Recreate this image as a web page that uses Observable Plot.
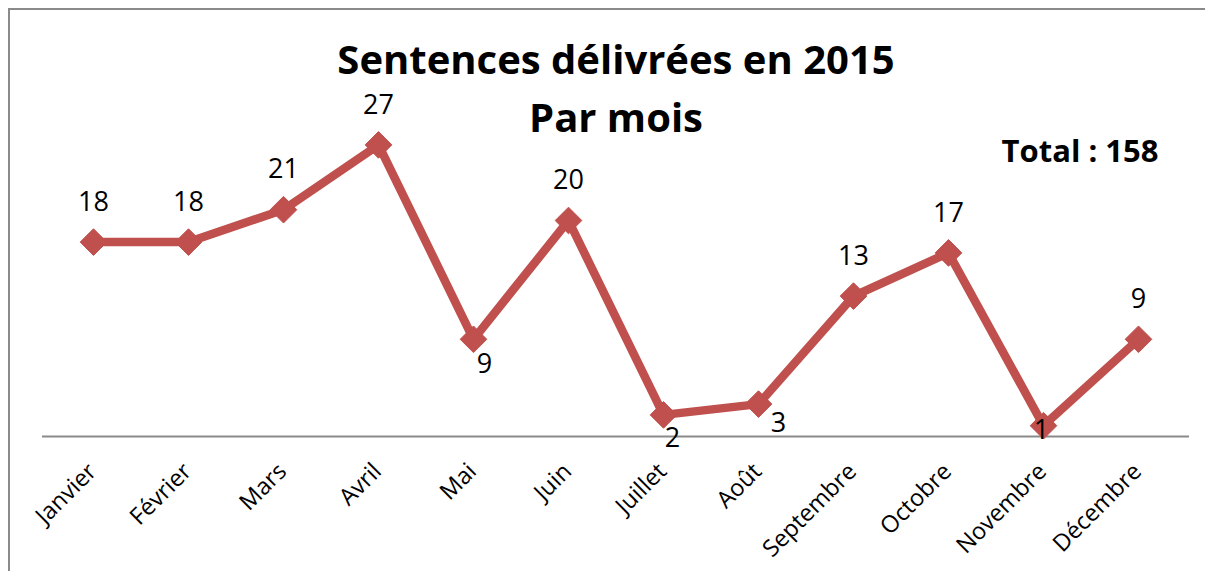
<!DOCTYPE html>
<html>
<head>
<meta charset="utf-8">
<script src="https://cdn.jsdelivr.net/npm/d3@7"></script>
<script src="https://cdn.jsdelivr.net/npm/@observablehq/plot@0.6"></script>
<style>
  html, body { margin: 0; padding: 0; background: #fff; }
  #wrap { position: relative; width: 1205px; height: 571px; overflow: hidden; }
  #frame { position: absolute; left: 8px; top: 8px; width: 1400px; height: 800px;
           border-left: 2px solid #8a8a8a; border-top: 2px solid #8a8a8a; }
  #chart { position: absolute; left: 0; top: 0; }
</style>
</head>
<body>
<div id="wrap"><div id="frame"></div><div id="chart"></div></div>
<script>
const months = ["Janvier","Février","Mars","Avril","Mai","Juin","Juillet","Août","Septembre","Octobre","Novembre","Décembre"];
const sentences = [18,18,21,27,9,20,2,3,13,17,1,9];
const titleLines = ["Sentences délivrées en 2015","Par mois"];
const totalLabel = "Total : 158";

const data = months.map((m, i) => ({month: m, value: sentences[i]}));

// label placement (style only)
const place = {"Mai": [11, 25], "Juillet": [9, 23], "Août": [20, 19], "Novembre": [-2, 5]};
const dxOf = d => (place[d.month] || [0, -40])[0];
const dyOf = d => (place[d.month] || [0, -40])[1];

const red = "#c0504d";
const font = "'Open Sans', sans-serif";

const labelMarks = data.map(d =>
  Plot.text([d], {x: "month", y: "value", text: d => String(d.value),
    dx: dxOf(d), dy: dyOf(d), fontSize: 27, fill: "#000", fontFamily: font})
);

const chart = Plot.plot({
  width: 1205,
  height: 571,
  marginLeft: 42,
  marginRight: 16,
  marginTop: 112,
  marginBottom: 135,
  style: {fontFamily: font, background: "transparent", overflow: "visible"},
  x: {type: "point", domain: months, padding: 0.5, label: null, axis: null},
  y: {domain: [0, 30], axis: null},
  marks: [
    Plot.ruleY([0], {stroke: "#8a8a8a", strokeWidth: 2}),
    Plot.text(months, {x: d => d, frameAnchor: "bottom", lineAnchor: "middle", rotate: -45, textAnchor: "end",
      dx: -1, dy: 31, fontSize: 23.5, fill: "#000", fontFamily: font}),
    Plot.line(data, {x: "month", y: "value", stroke: red, strokeWidth: 8.5, strokeLinejoin: "miter", style: "filter: drop-shadow(1px 2px 2px rgba(0,0,0,0.25))"}),
    Plot.dot(data, {x: "month", y: "value", symbol: "diamond2", r: 12, fill: red, stroke: red, strokeWidth: 1}),
    ...labelMarks,
    Plot.text([titleLines[0]], {frameAnchor: "top", lineAnchor: "top", dy: -67, fontSize: 40, fontWeight: "bold", fill: "#000", fontFamily: font}),
    Plot.text([titleLines[1]], {frameAnchor: "top", lineAnchor: "top", dy: -9, fontSize: 40, fontWeight: "bold", fill: "#000", fontFamily: font}),
    Plot.text([totalLabel], {frameAnchor: "top-right", lineAnchor: "top", dx: -31, dy: 27, fontSize: 31, fontWeight: "bold", fill: "#000", fontFamily: font})
  ]
});
document.getElementById("chart").appendChild(chart);
</script>
</body>
</html>
